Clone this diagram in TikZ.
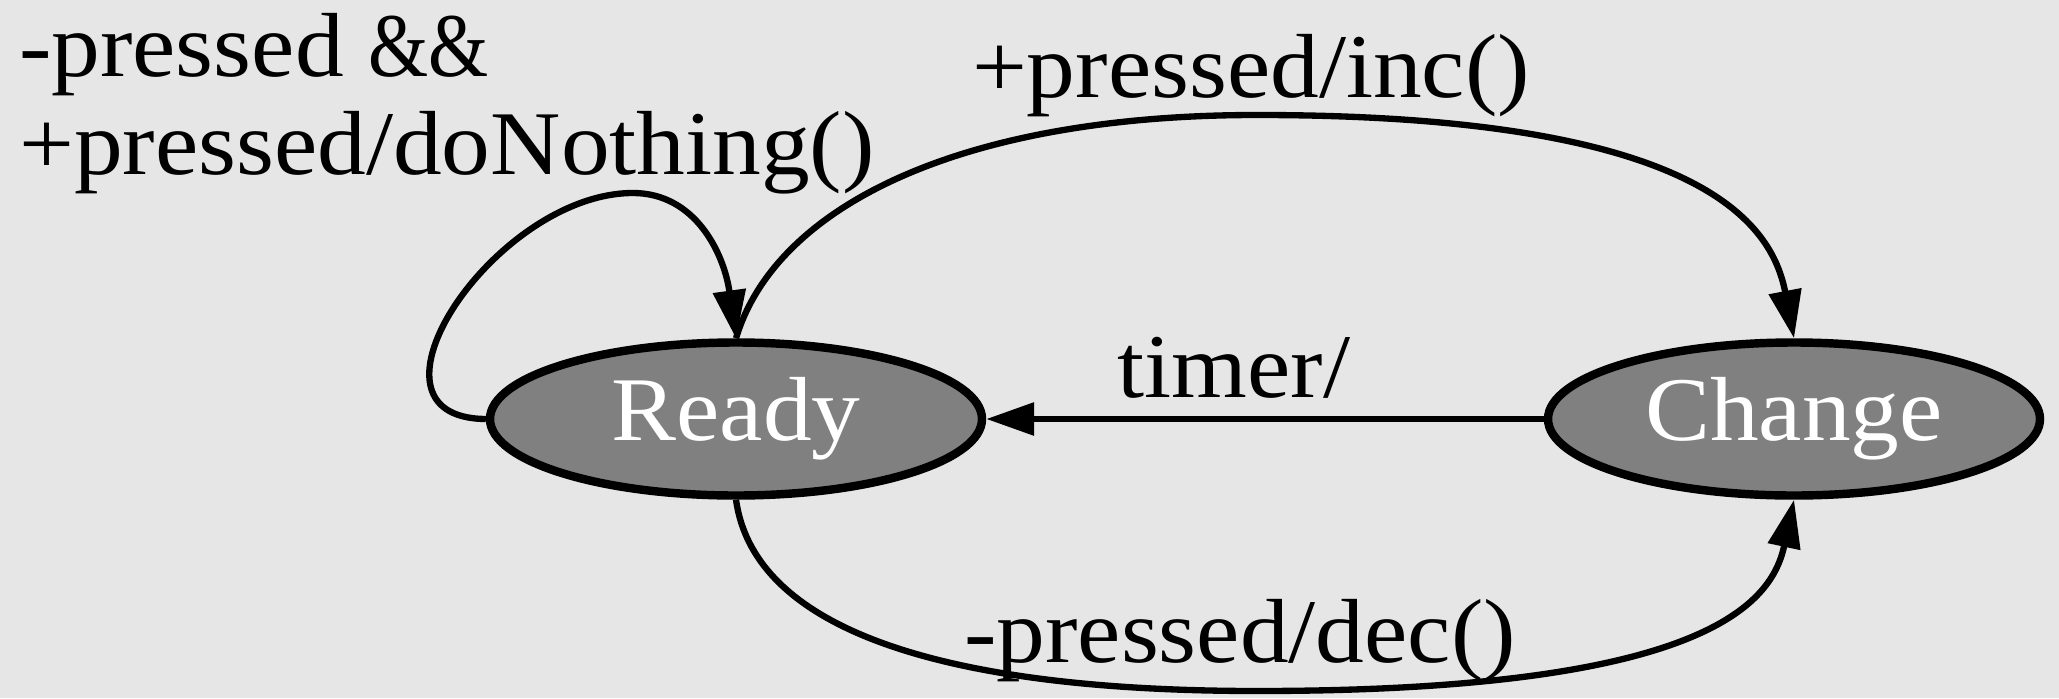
\documentclass[tikz,border=0pt]{standalone}
\usepackage{fontspec}
\setmainfont{Liberation Serif}[FakeStretch=1.07]
\usetikzlibrary{arrows.meta,shapes,positioning}
\definecolor{bggray}{RGB}{230,230,230}
\definecolor{stategray}{RGB}{128,128,128}
\newcommand{\narrowamp}{{\addfontfeature{FakeStretch=0.85}\&\&}}
\tikzset{
        % State nodes
        node_state/.style={ellipse, draw=black, line width=2.4pt, fill=stategray, text=white, inner sep=0pt, minimum width=4.92cm, minimum height=1.53cm},
        % Transition labels
        node_label/.style={inner sep=0pt, anchor=base}
}

\begin{document}
\begin{tikzpicture}[
            ->, >={Triangle[length=0.48cm,width=0.32cm]},
            line width=1.8pt,
            font=\fontsize{25.9pt}{27.9pt}\selectfont
        ]
            \fill[bggray] (0,0) rectangle (20.59,6.98);
            \useasboundingbox (0,0) rectangle (20.59,6.98);
            % States
            \node[node_state] (ready) at (7.36,2.79) {Ready};
            \node[node_state] (change) at (17.94,2.79) {Change};
            % Labels
            \node[inner sep=0pt, align=left, anchor=north west] (loop_label) at (0.16,6.88) {-pressed \narrowamp\\+pressed/doNothing()};
            \node[node_label] (inc_label) at (12.51,6.01) {+pressed/inc()};
            \node[node_label] (timer_label) at (12.34,3.01) {timer/};
            \node[node_label] (dec_label) at (12.40,0.36) {-pressed/dec()};
            % Transitions
            \draw (ready.west) .. controls (3.45,2.8) and (4.95,5.05) .. (6.33,5.05)
                .. controls (6.95,5.05) and (7.24,4.45) .. (ready.north);
            \draw (ready.north) .. controls (7.75,4.9) and (9.57,5.83) .. (12.57,5.83)
                .. controls (17.0,5.83) and (17.72,4.75) .. (change.north);
            \draw (change.west) -- (ready.east);
            \draw (ready.south) .. controls (7.55,0.63) and (9.57,0.07) .. (12.57,0.07)
                .. controls (17.07,0.07) and (17.72,0.95) .. (change.south);
        \end{tikzpicture}
\end{document}
